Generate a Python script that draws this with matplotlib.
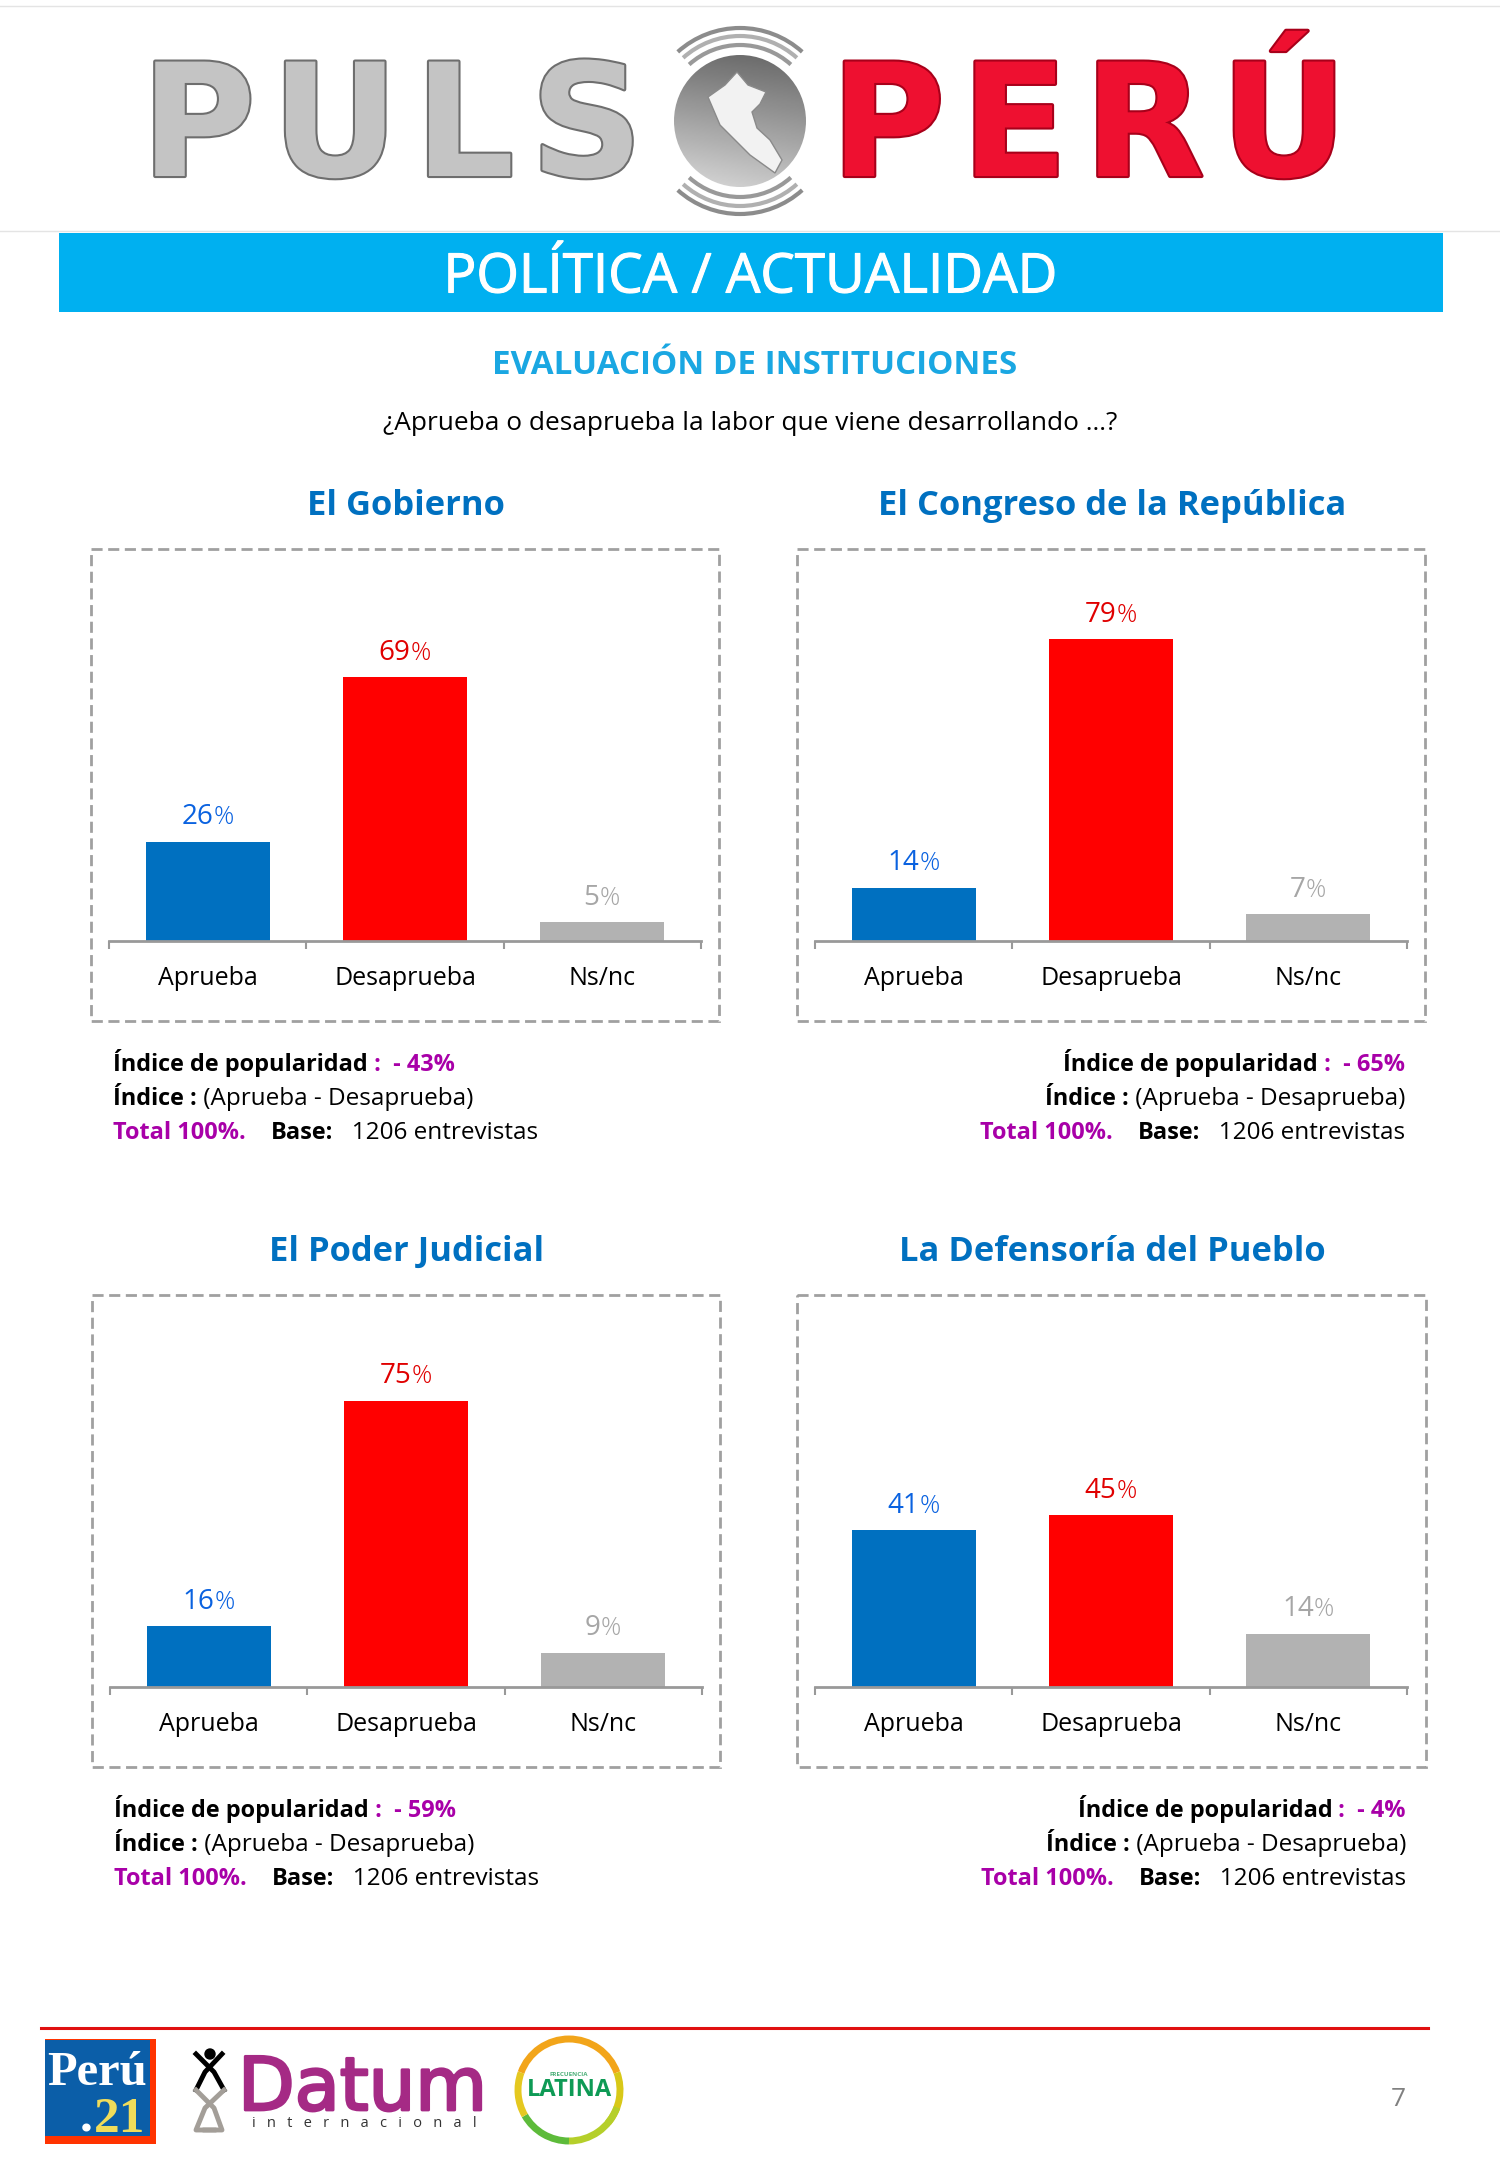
import numpy as np
import matplotlib
matplotlib.use('Agg')
import matplotlib.pyplot as plt
import matplotlib.patheffects as pe
from matplotlib.patches import Rectangle, Ellipse, Polygon, Arc

plt.rcParams['font.family'] = ['Open Sans', 'DejaVu Sans']

W = 1500
H = 2167

categories = ['Aprueba', 'Desaprueba', 'Ns/nc']
panel_titles = ['El Gobierno', 'El Congreso de la República', 'El Poder Judicial', 'La Defensoría del Pueblo']
gobierno = [26, 69, 5]
congreso = [14, 79, 7]
poder_judicial = [16, 75, 9]
defensoria = [41, 45, 14]
popularidad = ['- 43%', '- 65%', '- 59%', '- 4%']

BLUE = '#0070C0'
RED = '#FF0000'
GREY = '#B2B2B2'
PURPLE = '#A800A8'
CYAN = '#00B0F0'
bar_colors = [BLUE, RED, GREY]
label_colors = ['#0A62E0', '#E00000', '#A6A6A6']

fig = plt.figure(figsize=(W / 100, H / 100), dpi=100, facecolor='white')
page = fig.add_axes([0, 0, 1, 1])
page.set_xlim(0, W)
page.set_ylim(H, 0)
page.axis('off')


def text_width(s, w, size, rend):
	# the bars keep the spaces at the ends of s in the measure
	a = page.text(0, 0, '|' + s + '|', fontweight=w, fontsize=size)
	b = page.text(0, 0, '||', fontweight=w, fontsize=size)
	wd = a.get_window_extent(rend).width - b.get_window_extent(rend).width
	a.remove()
	b.remove()
	return wd


def runs(x, y, parts, ha='left'):
	# parts is a list of (text, colour, weight), laid one after the other
	rend = fig.canvas.get_renderer()
	sizes = [16.9 if w == 'bold' else 17.5 for s, c, w in parts]
	widths = [text_width(s, w, z, rend) for (s, c, w), z in zip(parts, sizes)]
	cur = x
	if ha == 'right':
		cur = x - sum(widths)
	for (s, c, w), wd, z in zip(parts, widths, sizes):
		page.text(cur, y, s, color=c, fontweight=w, fontsize=z, va='baseline', ha='left')
		cur += wd


def draw_panel(vals, title, pop, box_x, box_y, right_note):
	bx0, bx1 = box_x
	by0, by1 = box_y
	page.add_patch(Rectangle((bx0, by0), bx1 - bx0, by1 - by0, fill=False, edgecolor='#A0A0A0',
							 linewidth=2, linestyle=(0, (4, 2))))
	page.text((bx0 + bx1) / 2 + 1, by0 - 43, title, color=BLUE, fontsize=24.8, fontweight='bold',
			  ha='center', va='center')

	base = by0 + 392
	ax = fig.add_axes([(bx0 + 18) / W, 1 - base / H, 592 / W, 382 / H])
	ax.patch.set_alpha(0)
	ax.bar(range(3), vals, width=0.63, color=bar_colors)
	ax.set_xlim(-0.5, 2.5)
	ax.set_ylim(0, 100)
	for s in ['top', 'left', 'right']:
		ax.spines[s].set_visible(False)
	ax.spines['bottom'].set_color('#999999')
	ax.spines['bottom'].set_linewidth(2)
	ax.set_yticks([])
	ax.set_xticks([-0.5, 0.5, 1.5, 2.5])
	ax.set_xticklabels([])
	ax.tick_params(axis='x', which='major', length=6, width=1.5, color='#999999')
	ax.set_xticks([0, 1, 2], minor=True)
	ax.set_xticklabels(categories, minor=True, fontsize=18, color='black')
	ax.tick_params(axis='x', which='minor', length=0, pad=18)

	for i, v in enumerate(vals):
		dx = 4 if v >= 10 else -2
		ax.annotate(str(v), (i, v), xytext=(dx, 12.5), textcoords='offset points', ha='right',
					color=label_colors[i], fontsize=20)
		ax.annotate('%', (i, v), xytext=(dx, 12.5), textcoords='offset points', ha='left',
					color=label_colors[i], fontsize=18, fontweight='light')

	if right_note:
		nx = bx1 - 20
		ha = 'right'
	else:
		nx = bx0 + 22
		ha = 'left'
	y0 = by1 + 50
	runs(nx, y0, [('Índice de popularidad', 'black', 'bold'), (' :  ' + pop, PURPLE, 'bold')], ha)
	runs(nx, y0 + 34, [('Índice :', 'black', 'bold'), (' (Aprueba - Desaprueba)', 'black', 'normal')], ha)
	runs(nx, y0 + 68, [('Total 100%.', PURPLE, 'bold'), ('    ', 'black', 'normal'), ('Base:', 'black', 'bold'),
					   ('   1206 entrevistas', 'black', 'normal')], ha)


def draw_logo():
	metal = [pe.Stroke(linewidth=3, foreground='#6e6e6e'), pe.Normal()]
	redfx = [pe.Stroke(linewidth=3, foreground='#a8001a'), pe.Normal()]
	# hair spaces, the logo letters are wider apart than the font's
	page.text(392, 176, 'P\u200aU\u200aL\u200aS', color='#c4c4c4', fontsize=113, fontweight='bold',
			  family='DejaVu Sans', ha='center', va='baseline', path_effects=metal)
	page.text(1089, 176, 'P\u200aE\u200aR\u200aÚ', color='#ee1030', fontsize=113, fontweight='bold',
			  family='DejaVu Sans', ha='center', va='baseline', path_effects=redfx)

	# globe with the map on it
	grad = np.linspace(0.45, 0.85, 64).reshape(-1, 1) * np.linspace(1.0, 0.9, 64)
	im = page.imshow(grad, extent=(674, 806, 187, 55), cmap='gray', vmin=0, vmax=1, aspect='auto', zorder=2)
	clip = Ellipse((740, 121), 132, 132, transform=page.transData, facecolor='none', edgecolor='none')
	page.add_patch(clip)
	im.set_clip_path(clip)
	page.set_xlim(0, W)
	page.set_ylim(H, 0)
	shape = [(737, 72), (748, 85), (766, 92), (760, 104), (752, 112), (757, 128), (770, 140), (782, 160),
			 (775, 173), (750, 155), (720, 125), (708, 97), (725, 85)]
	page.add_patch(Polygon(shape, closed=True, facecolor='#f2f2f2', edgecolor='#8a8a8a', linewidth=1, zorder=3))
	for r, lw, c in [(76, 3, '#999999'), (85, 3, '#b0b0b0'), (93, 3, '#8c8c8c')]:
		page.add_patch(Arc((740, 121), 2 * r, 2 * r, theta1=228, theta2=312, color=c, linewidth=lw))
		page.add_patch(Arc((740, 121), 2 * r, 2 * r, theta1=48, theta2=132, color=c, linewidth=lw))


def draw_footer():
	page.plot([41, 1428], [2028, 2028], color='#E01010', linewidth=2.2)
	# Peru.21
	page.add_patch(Rectangle((45, 2039), 111, 105, color='#FF3300', linewidth=0))
	page.add_patch(Rectangle((45, 2040), 105, 96, color='#0B5EA8', linewidth=0))
	page.text(97, 2085, 'Perú', color='white', fontsize=35, fontweight='bold', family='Liberation Serif',
			  ha='center', va='baseline')
	page.text(86, 2132, '.', color='white', fontsize=37, fontweight='bold', family='Liberation Serif',
			  ha='center', va='baseline')
	page.text(120, 2132, '21', color='#F0DC5A', fontsize=37, fontweight='bold', family='Liberation Serif',
			  ha='center', va='baseline')
	# Datum
	page.plot([196, 214, 224], [2054, 2072, 2090], color='black', linewidth=3.5)
	page.plot([222, 205, 196], [2054, 2072, 2090], color='black', linewidth=3.5)
	page.plot([196, 214, 222, 205], [2090, 2108, 2130, 2130], color='#a39e98', linewidth=3.5)
	page.plot([224, 205, 196, 214], [2090, 2108, 2130, 2130], color='#a39e98', linewidth=3.5)
	page.add_patch(Ellipse((210, 2054), 10, 10, color='black'))
	page.text(238, 2110, 'Datum', color='#A52A85', fontsize=53, family='DejaVu Sans', ha='left', va='baseline',
			  path_effects=[pe.Stroke(linewidth=2, foreground='#A52A85'), pe.Normal()])
	page.text(364, 2127, 'i   n   t   e   r   n   a   c   i   o   n   a   l', color='#333333', fontsize=10.5,
			  ha='center', va='baseline')
	# Latina
	for t0, t1, c in [(200, 340, '#F2A51A'), (340, 400, '#D8C818'), (20, 90, '#B5CF2A'), (90, 150, '#5DBB3A'),
					  (150, 200, '#E5C820')]:
		page.add_patch(Arc((569, 2090), 102, 102, theta1=t0, theta2=t1, color=c, linewidth=5))
	page.text(569, 2096, 'LATINA', color='#0E9A55', fontsize=17, fontweight='bold', ha='center', va='baseline')
	page.text(569, 2076, 'FRECUENCIA', color='#4FB07A', fontsize=4.5, fontweight='bold', ha='center', va='baseline')
	page.text(1398, 2099, '7', color='#808080', fontsize=19, ha='center', va='center')


# page furniture
page.plot([0, W], [6, 6], color='#E4E4E4', linewidth=1)
page.plot([0, W], [231, 231], color='#E4E4E4', linewidth=1)
page.add_patch(Rectangle((59, 233), 1384, 79, color=CYAN, linewidth=0))
page.text(751, 278, 'POLÍTICA / ACTUALIDAD', color='white', fontsize=39.4, ha='center', va='center',
		  path_effects=[pe.Stroke(linewidth=0.8, foreground='white'), pe.Normal()])
page.text(755, 366, 'EVALUACIÓN DE INSTITUCIONES', color='#1AA7E2', fontsize=23.9, fontweight='bold',
		  ha='center', va='center')
page.text(750, 424, '¿Aprueba o desaprueba la labor que viene desarrollando …?', color='black', fontsize=18.9,
		  ha='center', va='center')

draw_logo()

draw_panel(gobierno, panel_titles[0], popularidad[0], (91, 719), (549, 1021), False)
draw_panel(congreso, panel_titles[1], popularidad[1], (797, 1425), (549, 1021), True)
draw_panel(poder_judicial, panel_titles[2], popularidad[2], (92, 720), (1295, 1767), False)
draw_panel(defensoria, panel_titles[3], popularidad[3], (797, 1426), (1295, 1767), True)

draw_footer()

plt.savefig('out.png', dpi=100)
